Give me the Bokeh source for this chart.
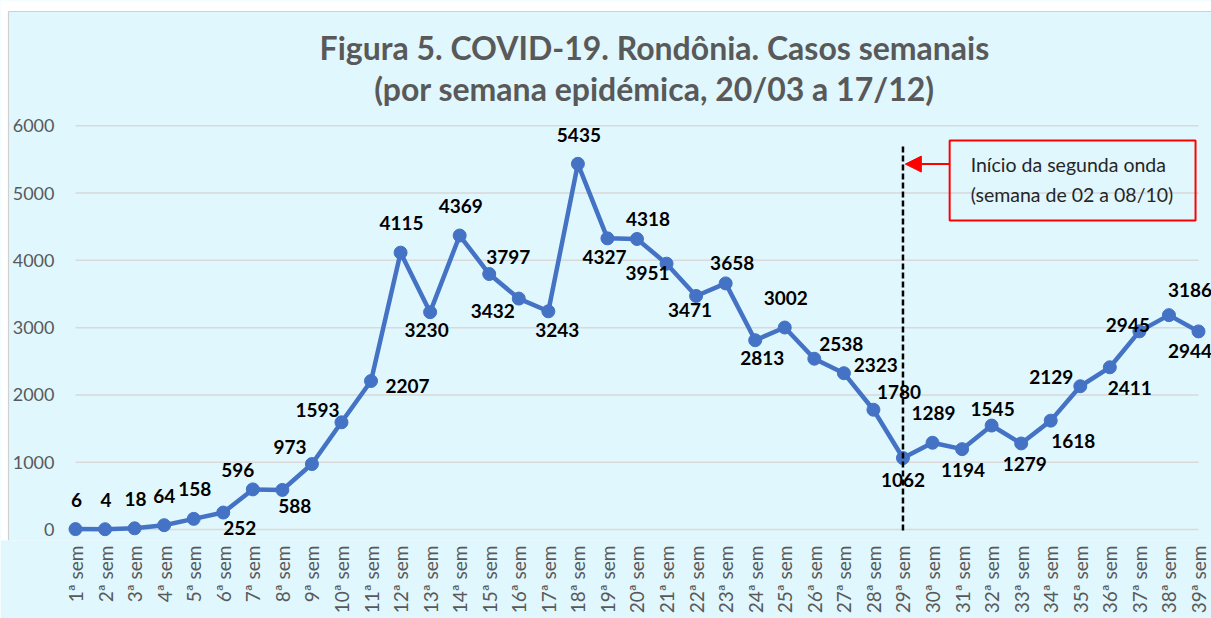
import math
from bokeh.plotting import figure
from bokeh.models import (ColumnDataSource, LabelSet, Label, Arrow, NormalHead,
                          FixedTicker, BoxAnnotation, Range1d)
from bokeh.core.properties import value
from bokeh.embed import file_html
from bokeh.resources import INLINE

# ---------------- data ----------------
weeks = ["1ª sem", "2ª sem", "3ª sem", "4ª sem", "5ª sem", "6ª sem", "7ª sem", "8ª sem",
         "9ª sem", "10ª sem", "11ª sem", "12ª sem", "13ª sem", "14ª sem", "15ª sem",
         "16ª sem", "17ª sem", "18ª sem", "19ª sem", "20ª sem", "21ª sem", "22ª sem",
         "23ª sem", "24ª sem", "25ª sem", "26ª sem", "27ª sem", "28ª sem", "29ª sem",
         "30ª sem", "31ª sem", "32ª sem", "33ª sem", "34ª sem", "35ª sem", "36ª sem",
         "37ª sem", "38ª sem", "39ª sem"]
cases = [6, 4, 18, 64, 158, 252, 596, 588, 973, 1593, 2207, 4115, 3230, 4369, 3797,
         3432, 3243, 5435, 4327, 4318, 3951, 3471, 3658, 2813, 3002, 2538, 2323, 1780,
         1062, 1289, 1194, 1545, 1279, 1618, 2129, 2411, 2945, 3186, 2944]
y_ticks = [0, 1000, 2000, 3000, 4000, 5000, 6000]
y_tick_labels = ["0", "1000", "2000", "3000", "4000", "5000", "6000"]

# label offsets in screen pixels (dx right, dy up)
label_dx = [1, 1, 1, 0, 1, 16.5, -15, 12.5, -22, -24, 36.5, 1, -3.5, 1, 19, -26, 9, 1,
            -3, 11, -19, -6, 6.5, 7, 1, 27, 32, 25.5, 0, 1, 1, 1, 3.5, 22.5, -29, 20,
            -11.5, 21, -8.5]
label_dy = [29, 29, 29.5, 29, 30, -15, 19, -16.5, 17, 12, -5, 30, -17.5, 30, 17, -12.5,
            -18.5, 29, -19, 20, -9, -14, 20.5, -17.5, 30, 15, 8.5, 17.5, -22, 29.5,
            -20.5, 17, -20.5, -20, 9, -20.5, 6.5, 25, -20]

x_pos = list(range(1, len(cases) + 1))

BG = "#E0F7FE"
BLUE = "#4472C4"
GRAY = "#595959"
FONT = "Lato"

# ranges chosen so that the frame spans the whole canvas width and top
X0, X1 = -1.53782, 39.4399
Y0, Y1 = -163.5, 7862.3
X_EDGE, Y_EDGE = -1.26711, 7698.8      # chart-area border (left / top)
X_YLAB = 0.28941                       # right edge of value labels

p = figure(frame_width=1211, frame_height=540,
           x_range=Range1d(X0, X1), y_range=Range1d(Y0, Y1),
           output_backend="svg", toolbar_location=None,
           min_border_left=0, min_border_right=0, min_border_top=0,
           min_border_bottom=78,
           background_fill_color=BG, border_fill_color=BG,
           outline_line_color=None)
p.title.visible = False

# x axis
p.xaxis.ticker = FixedTicker(ticks=x_pos)
p.xaxis.major_label_overrides = {i: w for i, w in zip(x_pos, weeks)}
p.xaxis.major_label_orientation = math.pi / 2
p.xaxis.axis_line_color = None
p.xaxis.major_tick_line_color = None
p.xaxis.minor_tick_line_color = None
p.xaxis.major_tick_out = 0
p.xaxis.major_tick_in = 0
p.xaxis.major_label_standoff = 5
p.xaxis.major_label_text_font = FONT
p.xaxis.major_label_text_font_size = "19px"
p.xaxis.major_label_text_color = GRAY

# y axis: labels drawn inside the frame (see below)
p.yaxis.visible = False
p.xgrid.visible = False
p.ygrid.visible = False

# white margin around the chart area + its light border
p.quad(left=X0, right=X1, bottom=Y_EDGE, top=Y1, fill_color="white", line_color=None)
p.quad(left=X0, right=X_EDGE, bottom=Y0, top=Y1, fill_color="white", line_color=None)
p.segment(x0=X_EDGE, x1=X1, y0=Y_EDGE, y1=Y_EDGE, line_color="#D0D0D0", line_width=1.2)
p.segment(x0=X_EDGE, x1=X_EDGE, y0=Y0, y1=Y_EDGE, line_color="#D0D0D0", line_width=1.2)

# horizontal gridlines spanning first..last week
p.segment(x0=[x_pos[0]] * len(y_ticks), x1=[x_pos[-1]] * len(y_ticks),
          y0=y_ticks, y1=y_ticks, line_color="#D9D9D9", line_width=1.5)
# value-axis labels
p.text(x=[X_YLAB] * len(y_ticks), y=y_ticks, text=y_tick_labels,
       text_align="right", text_baseline="middle", text_font=value(FONT),
       text_font_size=value("18px"), text_color=GRAY)

# series
src = ColumnDataSource(dict(x=x_pos, y=cases, t=[str(c) for c in cases],
                            dx=label_dx, dy=label_dy))
p.line("x", "y", source=src, line_color=BLUE, line_width=4.5, line_join="round")
p.scatter("x", "y", source=src, size=13, fill_color=BLUE, line_color=BLUE)

labels = LabelSet(x="x", y="y", text="t", x_offset="dx", y_offset="dy", source=src,
                  text_align="center", text_baseline="middle",
                  text_font=value(FONT), text_font_size=value("19px"),
                  text_font_style="bold", text_color="black")
p.add_layout(labels)

# title
p.add_layout(Label(x=20.59, y=7159, text="Figura 5. COVID-19. Rondônia. Casos semanais",
                   text_align="center", text_baseline="middle", text_font=FONT,
                   text_font_size="32px", text_font_style="bold", text_color=GRAY))
p.add_layout(Label(x=20.59, y=6550, text="(por semana epidémica, 20/03 a 17/12)",
                   text_align="center", text_baseline="middle", text_font=FONT,
                   text_font_size="32px", text_font_style="bold", text_color=GRAY))

# second-wave marker
p.add_layout(Arrow(x_start=29, y_start=5693, x_end=29, y_end=-60, end=None,
                   line_color="black", line_width=2.5, line_dash="6 3"))
p.add_layout(BoxAnnotation(left=30.58, right=38.90, bottom=4593, top=5782,
                           fill_color=None, fill_alpha=0, line_color="#FF0000",
                           line_alpha=1, line_width=2))
p.add_layout(Arrow(x_start=30.58, y_start=5431, x_end=29.08, y_end=5431,
                   line_color="#FF0000", line_width=2,
                   end=NormalHead(size=16, fill_color="#FF0000", line_color="#FF0000")))
p.add_layout(Label(x=31.29, y=5431, text="Início da segunda onda", text_align="left",
                   text_baseline="middle", text_font=FONT, text_font_size="19.5px",
                   text_color="#262626"))
p.add_layout(Label(x=31.29, y=4986, text="(semana de 02 a 08/10)", text_align="left",
                   text_baseline="middle", text_font=FONT, text_font_size="19.5px",
                   text_color="#262626"))

open("out.html", "w").write(file_html(p, INLINE))
